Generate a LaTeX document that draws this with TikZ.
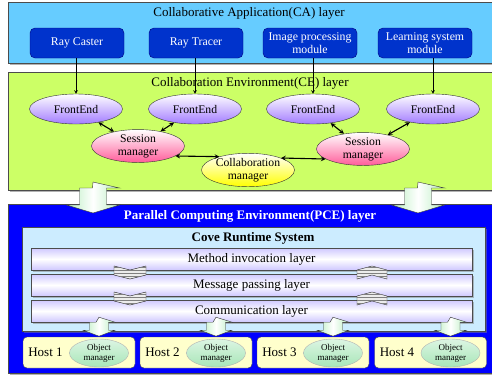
\documentclass[tikz,border=0pt]{standalone}
\usepackage{fontspec}
\setmainfont{Liberation Serif}
\usetikzlibrary{shadows,patterns,shapes.geometric}
\definecolor{cablue}{HTML}{66CCFF}
\definecolor{btnblue}{HTML}{0033CC}
\definecolor{cegreen}{HTML}{CCFF66}
\definecolor{pceblue}{HTML}{0000FF}
\definecolor{covebg}{HTML}{CCECFF}
\definecolor{hostbg}{HTML}{FFFFCC}
\definecolor{fepurple}{HTML}{A37CFF}
\definecolor{smpink}{HTML}{FF5C9A}
\definecolor{omgreen}{HTML}{A8E6B8}
\definecolor{arrgreen}{HTML}{B8EEC0}
\definecolor{barlav}{HTML}{CFC8FF}
\begin{document}
\begin{tikzpicture}[x=1pt,y=-1pt,>=stealth,
  layer/.style={draw=black!70,line width=0.8pt,drop shadow={shadow xshift=2pt,shadow yshift=-2pt,fill=black!60}},
  ttl/.style={font=\fontsize{13}{15}\selectfont},
  btn/.style={draw=blue!50!black,fill=btnblue,rounded corners=5pt,text=white,align=center,
    minimum width=94pt,minimum height=30pt,font=\fontsize{11.8}{13}\selectfont},
  oval/.style={ellipse,draw=black!80,minimum width=93pt,minimum height=30pt,inner sep=0pt,align=center,
    font=\fontsize{11.7}{13}\selectfont},
  fe/.style={oval,top color=white,bottom color=fepurple},
  sess/.style={oval,top color=white,bottom color=smpink},
  collab/.style={oval,top color=white,bottom color=yellow},
  bar/.style={draw=black!70,top color=barlav,bottom color=barlav,middle color=white,
    minimum width=441pt,minimum height=22pt,font=\fontsize{13}{15}\selectfont,
    drop shadow={shadow xshift=1.5pt,shadow yshift=-1.5pt,fill=black!50}},
  host/.style={draw=black!70,fill=hostbg,rounded corners=4pt,minimum width=112pt,minimum height=31pt},
  objm/.style={ellipse,draw=black!30,top color=omgreen!40,bottom color=omgreen,minimum width=59pt,
    minimum height=28pt,inner sep=0pt,align=center,font=\fontsize{9}{10}\selectfont},
  blk/.style={draw=black!80,left color=arrgreen,right color=arrgreen,middle color=white},
  chev/.style={draw=black!85,fill=gray!15,postaction={pattern=horizontal lines,pattern color=gray}},
  conn/.style={<->,line width=1.1pt}]
\useasboundingbox (0,0) rectangle (492,376);
\node[layer,fill=cablue,minimum width=495pt,minimum height=61pt] (ca) at (255.5,32.5) {};
\node[ttl] (catitle) at (249,13) {Collaborative Application(CA) layer};
\node[btn] (b1) at (77,43) {Ray Caster};
\node[btn] (b2) at (196,43) {Ray Tracer};
\node[btn] (b3) at (310,43) {Image processing\\module};
\node[btn] (b4) at (425,43) {Learning system\\module};
\node[layer,fill=cegreen,minimum width=495pt,minimum height=118pt] (ce) at (255.5,131) {};
\node[ttl] (cetitle) at (250,83) {Collaboration Environment(CE) layer};
\node[fe] (fe1) at (76,109) {FrontEnd};
\node[fe] (fe2) at (195,109) {FrontEnd};
\node[fe] (fe3) at (313,109) {FrontEnd};
\node[fe] (fe4) at (433,109) {FrontEnd};
\node[sess] (sml) at (138,146) {Session\\manager};
\node[sess] (smr) at (363,149) {Session\\manager};
\node[collab] (cmgr) at (248,170) {Collaboration\\manager};
\foreach \i in {1,...,4}
  \draw[->,line width=0.6pt] (fe\i.north |- b\i.south) -- (fe\i.north);
\draw[conn] (fe1) -- (sml);
\draw[conn] (fe2) -- (sml);
\draw[conn] (sml.-15) -- (cmgr.155);
\draw[conn] (cmgr.20) -- (smr.195);
\draw[conn] (smr) -- (fe3);
\draw[conn] (smr) -- (fe4);
\node[layer,fill=pceblue,minimum width=495pt,minimum height=169pt] (pce) at (255.5,288.5) {};
\node[ttl,text=white,font=\fontsize{13}{15}\selectfont\bfseries] (pcetitle) at (250,216) {Parallel Computing Environment(PCE) layer};
\node[draw=black!70,fill=covebg,minimum width=463pt,minimum height=104pt,
  drop shadow={shadow xshift=2pt,shadow yshift=-2pt,fill=black!50}] (cove) at (253.5,279) {};
\node[font=\fontsize{13}{15}\selectfont\bfseries] (covetitle) at (253,238) {Cove Runtime System};
\node[bar] (ml) at (251.5,259) {Method invocation layer};
\node[bar] (mp) at (251.5,285) {Message passing layer};
\node[bar] (cl) at (251.5,311) {Communication layer};
\foreach \y in {266,292}
  \draw[chev] (114,\y) -- (130,\y+4) -- (146,\y) -- (146,\y+9) -- (130,\y+13) -- (114,\y+9) -- cycle;
\foreach \y in {266,292}
  \draw[chev] (357,\y+13) -- (372,\y+9) -- (387,\y+13) -- (387,\y+4) -- (372,\y) -- (357,\y+4) -- cycle;
\foreach \n/\x in {1/79,2/196,3/313,4/430.5}{
  \node[host] (h\n) at (\x,352.5) {};
  \node[anchor=west,font=\fontsize{13}{15}\selectfont] (hl\n) at ([xshift=2pt]h\n.west) {Host \n};
  \node[objm] (om\n) at (\x+20,353) {Object\\manager};
  \draw[blk] (om\n.north |- cl.south) ++(0,-5) -- ++(16,5) -- ++(-6.5,0) -- ++(0,8) -- ++(6.5,0)
    -- ++(-16,6) -- ++(-16,-6) -- ++(6.5,0) -- ++(0,-8) -- ++(6.5,0) -- cycle;
}
\foreach \ax in {93,418}
  \draw[blk] (\ax,182) -- ++(26.5,6) -- ++(-13,0) -- ++(0,17) -- ++(13,0) -- ++(-26.5,8)
    -- ++(-26.5,-8) -- ++(13,0) -- ++(0,-17) -- ++(13,0) -- cycle;
\end{tikzpicture}
\end{document}
